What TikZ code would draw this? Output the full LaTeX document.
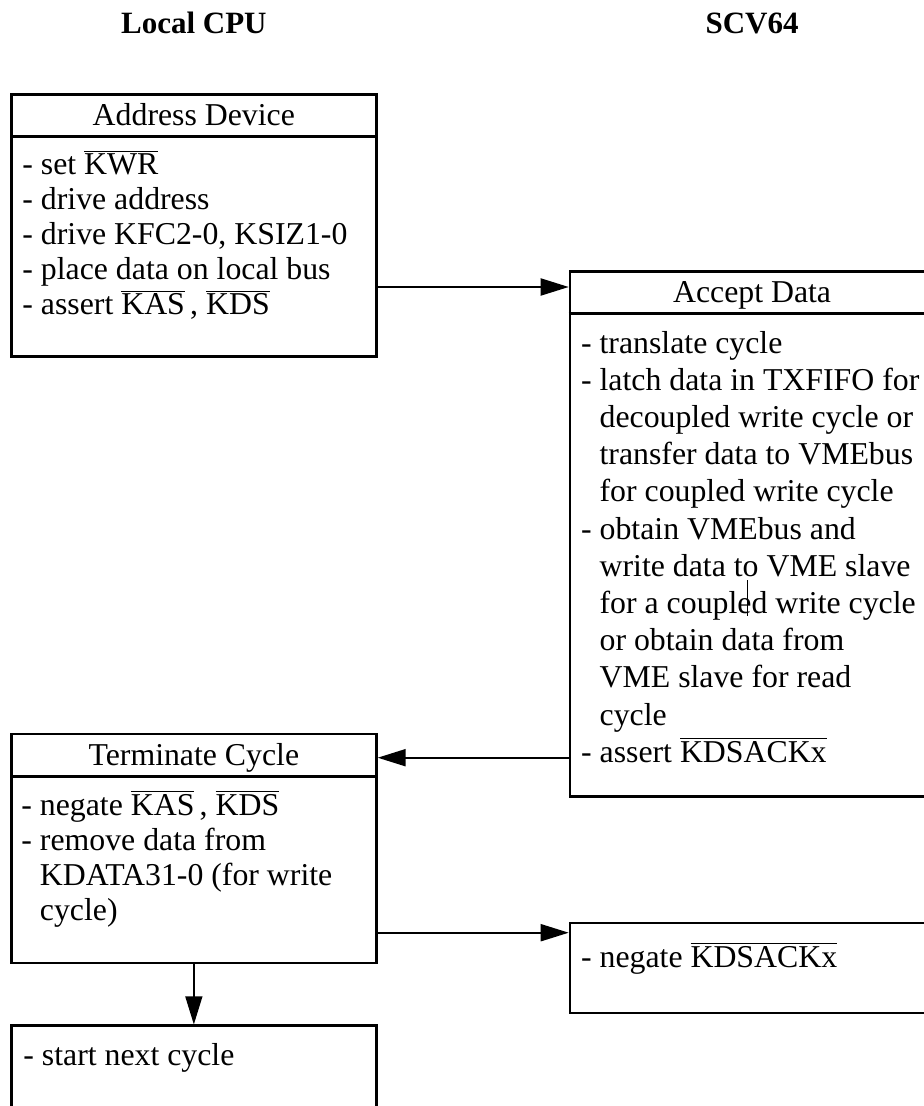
\documentclass[tikz,border=0pt]{standalone}
\usepackage{fontspec}
\setmainfont{Liberation Serif}
\usetikzlibrary{arrows.meta, positioning}

\newcommand{\lowsig}[1]{$\overline{\mbox{#1}}$}
\newcommand{\itemcont}{\hphantom{-\ }}

\begin{document}
\begin{tikzpicture}[
    box/.style={draw, line width=1.35pt, inner sep=0pt, minimum width=182.5pt, minimum height=50pt},
    wide/.style={box, minimum width=182pt},
    titlebar/.style={inner sep=0pt, minimum height=21.5pt, text height=11pt, text depth=0pt,
                     font=\fontsize{15.9}{17.5}\selectfont},
    divider/.style={line width=1.35pt},
    body/.style={inner sep=0pt, align=left, anchor=base west,
                 font=\fontsize{15.9}{17.5}\selectfont},
    head/.style={inner sep=0pt, anchor=base, font=\fontsize{15.5}{18}\selectfont\bfseries},
    flow/.style={line width=1pt, -{Triangle[length=14pt, width=8.5pt]}}
  ]
    \useasboundingbox (0,0) rectangle (462pt,-553pt);
    \clip (0,0) rectangle (462pt,-553pt);
    % Add the boxes
    \node[box,
          minimum height=131pt,
          anchor=north west
          ] (addr) at (5pt,-46.5pt) {};
    \node[wide,
          below right=88.5pt and 95.5pt of addr.north east,
          minimum height=262.5pt
          ] (accept) {};
    \node[box,
          below=187.5pt of addr,
          minimum height=114.5pt
          ] (term) {};
    \node[box,
          below=30pt of term,
          minimum height=50pt
          ] (next) {};
    \node[wide,
          below=62pt of accept,
          minimum height=45pt
          ] (nack) {};
    % column heads
    \node[head] (cpu) at ([yshift=29.5pt]addr.north) {Local CPU};
    \node[head] (scv) at (cpu.base -| accept.north) {SCV64};
    % title bars
    \node[titlebar, below=0pt of addr.north] (addrhead) {Address Device};
    \node[titlebar, below=0pt of accept.north] (accepthead) {Accept Data};
    \node[titlebar, below=0pt of term.north] (termhead) {Terminate Cycle};
    \draw[divider] (addrhead.south -| addr.west) -- (addrhead.south -| addr.east);
    \draw[divider] (accepthead.south -| accept.west) -- (accepthead.south -| accept.east);
    \draw[divider] (termhead.south -| term.west) -- (termhead.south -| term.east);
    % box texts (placed by the baseline of their last line)
    \node[body] (addrtext) at ([xshift=6pt, yshift=-111pt]addr.north west)
        {- set \lowsig{KWR}\\
         - drive address\\
         - drive KFC2-0, KSIZ1-0\\
         - place data on local bus\\
         - assert \lowsig{KAS}\,, \lowsig{KDS}};
    \node[body,
          font=\fontsize{15.9}{18.6}\selectfont
          ] (accepttext) at ([xshift=6pt, yshift=-246.1pt]accept.north west)
        {- translate cycle\\
         - latch data in TXFIFO for\\
         \itemcont decoupled write cycle or\\
         \itemcont transfer data to VMEbus\\
         \itemcont for coupled write cycle\\
         - obtain VMEbus and\\
         \itemcont write data to VME slave\\
         \itemcont for a coupled write cycle\\
         \itemcont or obtain data from\\
         \itemcont VME slave for read\\
         \itemcont cycle\\
         - assert \lowsig{KDSACKx}};
    \node[body] (termtext) at ([xshift=5.5pt, yshift=-94pt]term.north west)
        {- negate \lowsig{KAS}\,, \lowsig{KDS}\\
         - remove data from\\
         \itemcont KDATA31-0 (for write\\
         \itemcont cycle)};
    \node[body] (nexttext) at ([xshift=6.5pt, yshift=-20.5pt]next.north west)
        {- start next cycle};
    \node[body] (nacktext) at ([xshift=6pt, yshift=-23pt]nack.north west)
        {- negate \lowsig{KDSACKx}};
    % connectors
    \coordinate (a1) at ([yshift=-97pt]addr.north east);
    \coordinate (a2) at ([yshift=-12.5pt]term.north east);
    \coordinate (a3) at ([yshift=-5.5pt]nack.north west);
    \draw[flow] (a1) -- (a1 -| accept.west);
    \draw[flow] (a2 -| accept.west) -- (a2);
    \draw[flow] (a3 -| term.east) -- (a3);
    \draw[flow, line width=0.65pt] (term.south) -- (next.north);
    \draw[line width=0.5pt] ([xshift=89.5pt, yshift=-155pt]accept.north west) -- ++(0,-18pt);
\end{tikzpicture}
\end{document}
